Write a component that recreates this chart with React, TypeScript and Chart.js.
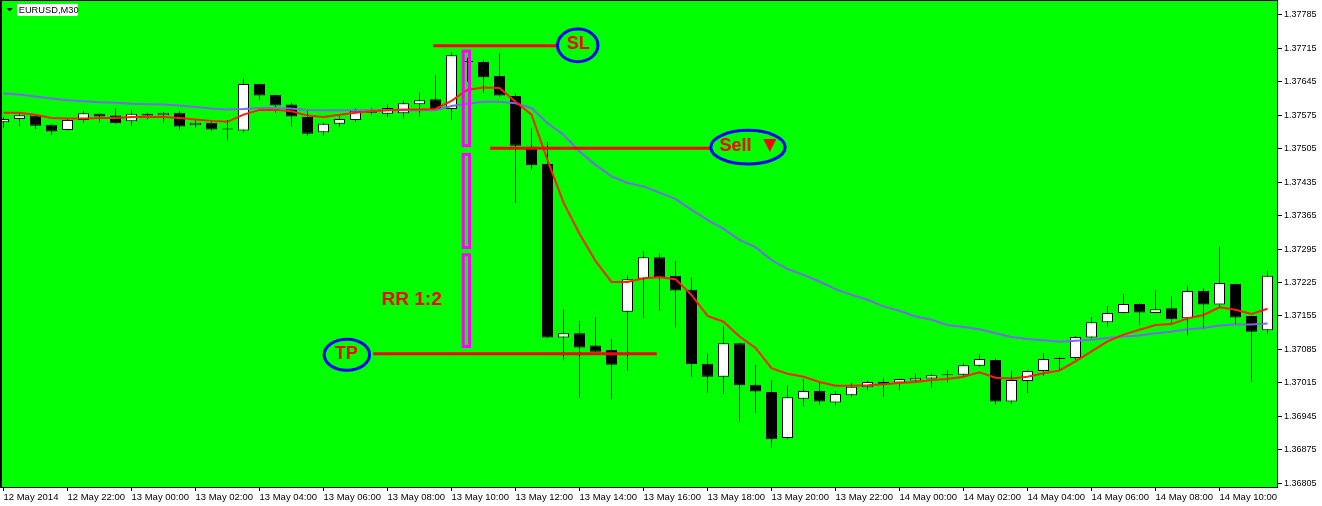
import { useEffect, useRef } from 'react';
import { Chart, registerables } from 'chart.js';

Chart.register(...registerables);

// ---- Data (EURUSD, M30) ----
const timeTickIndex = [0, 4, 8, 12, 16, 20, 24, 28, 32, 36, 40, 44, 48, 52, 56, 60, 64, 68, 72, 76];
const timeTickLabels = [
  '12 May 2014', '12 May 22:00', '13 May 00:00', '13 May 02:00', '13 May 04:00',
  '13 May 06:00', '13 May 08:00', '13 May 10:00', '13 May 12:00', '13 May 14:00',
  '13 May 16:00', '13 May 18:00', '13 May 20:00', '13 May 22:00', '14 May 00:00',
  '14 May 02:00', '14 May 04:00', '14 May 06:00', '14 May 08:00', '14 May 10:00',
];
const priceTicks = [
  1.36805, 1.36875, 1.36945, 1.37015, 1.37085, 1.37155, 1.37225, 1.37295,
  1.37365, 1.37435, 1.37505, 1.37575, 1.37645, 1.37715, 1.37785,
];

const opens = [
  1.37560, 1.37567, 1.37574, 1.37555, 1.37544, 1.37565, 1.37578, 1.37574, 1.37562, 1.37578,
  1.37575, 1.37580, 1.37554, 1.37559, 1.37545, 1.37543, 1.37640, 1.37617, 1.37597, 1.37571,
  1.37539, 1.37557, 1.37565, 1.37580, 1.37578, 1.37579, 1.37598, 1.37608, 1.37588, 1.37686,
  1.37686, 1.37657, 1.37615, 1.37509, 1.37473, 1.37110, 1.37119, 1.37093, 1.37084, 1.37164,
  1.37233, 1.37278, 1.37239, 1.37210, 1.37055, 1.37028, 1.37098, 1.37011, 1.36996, 1.36900,
  1.36982, 1.36998, 1.36974, 1.36989, 1.37006, 1.37017, 1.37016, 1.37020, 1.37024, 1.37031,
  1.37032, 1.37051, 1.37063, 1.36976, 1.37019, 1.37040, 1.37065, 1.37067, 1.37110, 1.37142,
  1.37161, 1.37180, 1.37161, 1.37171, 1.37150, 1.37207, 1.37179, 1.37222, 1.37155, 1.37125,
];
const highs = [
  1.37571, 1.37579, 1.37575, 1.37556, 1.37567, 1.37584, 1.37579, 1.37590, 1.37585, 1.37580,
  1.37581, 1.37584, 1.37565, 1.37565, 1.37565, 1.37652, 1.37641, 1.37618, 1.37601, 1.37586,
  1.37560, 1.37574, 1.37590, 1.37590, 1.37597, 1.37605, 1.37623, 1.37659, 1.37706, 1.37695,
  1.37691, 1.37705, 1.37620, 1.37548, 1.37519, 1.37169, 1.37145, 1.37153, 1.37107, 1.37240,
  1.37291, 1.37286, 1.37270, 1.37236, 1.37077, 1.37134, 1.37099, 1.37053, 1.37021, 1.37009,
  1.37023, 1.37017, 1.36998, 1.37015, 1.37020, 1.37026, 1.37024, 1.37034, 1.37034, 1.37042,
  1.37056, 1.37076, 1.37066, 1.37040, 1.37042, 1.37077, 1.37070, 1.37113, 1.37153, 1.37176,
  1.37201, 1.37181, 1.37208, 1.37197, 1.37218, 1.37213, 1.37300, 1.37223, 1.37156, 1.37249,
];
const lows = [
  1.37548, 1.37553, 1.37546, 1.37534, 1.37543, 1.37559, 1.37559, 1.37557, 1.37553, 1.37566,
  1.37560, 1.37544, 1.37549, 1.37542, 1.37522, 1.37539, 1.37606, 1.37580, 1.37551, 1.37532,
  1.37532, 1.37550, 1.37561, 1.37576, 1.37571, 1.37568, 1.37572, 1.37588, 1.37565, 1.37645,
  1.37622, 1.37614, 1.37391, 1.37462, 1.37109, 1.37062, 1.36984, 1.37079, 1.36981, 1.37040,
  1.37152, 1.37166, 1.37131, 1.37028, 1.36995, 1.36992, 1.36934, 1.36953, 1.36880, 1.36897,
  1.36966, 1.36970, 1.36968, 1.36986, 1.36999, 1.36986, 1.36999, 1.37018, 1.37005, 1.37016,
  1.37027, 1.37049, 1.36970, 1.36971, 1.36994, 1.37030, 1.37042, 1.37063, 1.37108, 1.37133,
  1.37160, 1.37136, 1.37160, 1.37141, 1.37114, 1.37127, 1.37175, 1.37136, 1.37018, 1.37118,
];
const closes = [
  1.37567, 1.37575, 1.37553, 1.37541, 1.37565, 1.37579, 1.37572, 1.37558, 1.37578, 1.37574,
  1.37580, 1.37551, 1.37559, 1.37545, 1.37545, 1.37640, 1.37616, 1.37595, 1.37572, 1.37536,
  1.37557, 1.37567, 1.37584, 1.37586, 1.37590, 1.37600, 1.37606, 1.37588, 1.37700, 1.37686,
  1.37654, 1.37616, 1.37511, 1.37470, 1.37110, 1.37119, 1.37089, 1.37080, 1.37053, 1.37232,
  1.37278, 1.37235, 1.37208, 1.37054, 1.37028, 1.37098, 1.37010, 1.36997, 1.36897, 1.36985,
  1.36998, 1.36976, 1.36992, 1.37007, 1.37017, 1.37013, 1.37023, 1.37026, 1.37031, 1.37031,
  1.37052, 1.37065, 1.36976, 1.37021, 1.37040, 1.37065, 1.37065, 1.37111, 1.37142, 1.37161,
  1.37180, 1.37162, 1.37169, 1.37148, 1.37207, 1.37179, 1.37224, 1.37152, 1.37122, 1.37239,
];
const maFast = [
  1.37580, 1.37580, 1.37576, 1.37569, 1.37568, 1.37568, 1.37569, 1.37569, 1.37571, 1.37571,
  1.37571, 1.37569, 1.37566, 1.37563, 1.37561, 1.37576, 1.37586, 1.37586, 1.37583, 1.37574,
  1.37571, 1.37576, 1.37580, 1.37583, 1.37585, 1.37587, 1.37587, 1.37588, 1.37605, 1.37628,
  1.37633, 1.37632, 1.37603, 1.37576, 1.37481, 1.37392, 1.37327, 1.37270, 1.37226, 1.37226,
  1.37234, 1.37236, 1.37232, 1.37199, 1.37155, 1.37143, 1.37112, 1.37088, 1.37046, 1.37034,
  1.37028, 1.37017, 1.37009, 1.37009, 1.37010, 1.37012, 1.37015, 1.37017, 1.37021, 1.37023,
  1.37028, 1.37037, 1.37026, 1.37024, 1.37028, 1.37035, 1.37041, 1.37060, 1.37081, 1.37102,
  1.37116, 1.37126, 1.37136, 1.37138, 1.37150, 1.37157, 1.37173, 1.37168, 1.37159, 1.37170,
];
const maSlow = [
  1.37620, 1.37618, 1.37614, 1.37610, 1.37606, 1.37604, 1.37602, 1.37601, 1.37599, 1.37598,
  1.37597, 1.37595, 1.37592, 1.37589, 1.37587, 1.37588, 1.37590, 1.37590, 1.37589, 1.37586,
  1.37585, 1.37585, 1.37585, 1.37585, 1.37585, 1.37585, 1.37585, 1.37585, 1.37594, 1.37599,
  1.37603, 1.37603, 1.37600, 1.37590, 1.37558, 1.37534, 1.37499, 1.37471, 1.37447, 1.37433,
  1.37426, 1.37413, 1.37400, 1.37377, 1.37356, 1.37337, 1.37314, 1.37299, 1.37272, 1.37253,
  1.37241, 1.37227, 1.37211, 1.37199, 1.37189, 1.37175, 1.37166, 1.37154, 1.37147, 1.37136,
  1.37132, 1.37127, 1.37119, 1.37111, 1.37107, 1.37104, 1.37101, 1.37103, 1.37105, 1.37109,
  1.37112, 1.37114, 1.37119, 1.37122, 1.37127, 1.37130, 1.37135, 1.37137, 1.37137, 1.37139,
];

// trade objects (time given as bar index, price as price)
const levelLines = [
  { name: 'SL', price: 1.37720, from: 26.86, to: 34.58 },
  { name: 'Sell', price: 1.37506, from: 30.41, to: 44.16 },
  { name: 'TP', price: 1.37076, from: 23.11, to: 40.83 },
];
const tags = [
  { text: 'SL', mark: '', at: 35.89, price: 1.37721 },
  { text: 'Sell', mark: '▼', at: 46.53, price: 1.37508 },
  { text: 'TP', mark: '', at: 21.46, price: 1.37074 },
];
const rrBoxSpan = [28.64, 29.22];
const rrBoxes = [
  [1.37712, 1.37508],
  [1.37496, 1.37295],
  [1.37286, 1.37088],
];
const rrLabel = { text: 'RR 1:2', at: 25.51, price: 1.37188 };
const symbolLabel = 'EURUSD,M30';

// ---- view range & styles ----
const X_MIN = -0.09375;
const X_MAX = 79.59375;
const Y_MIN = 1.367973;
const Y_MAX = 1.378137;

const tagStyle: Record<string, { rx: number; ry: number; dx: number; dy: number; mx: number; my: number }> = {
  SL: { rx: 20.2, ry: 16.3, dx: 0.6, dy: -0.8, mx: 0, my: 0 },
  Sell: { rx: 37.2, ry: 16.8, dx: -12.5, dy: -1, mx: 21.7, my: -1.8 },
  TP: { rx: 22.7, ry: 15.5, dx: -0.5, dy: -0.9, mx: 0, my: 0 },
};

const overlayPlugin = {
  id: 'mtOverlay',
  beforeDraw(chart: any) {
    const { ctx, chartArea: a, width, height } = chart;
    ctx.save();
    ctx.fillStyle = '#ffffff';
    ctx.fillRect(0, 0, width, height);
    ctx.fillStyle = '#00ff00';
    ctx.fillRect(a.left, a.top, a.right - a.left, a.bottom - a.top);
    ctx.fillStyle = '#000000';
    ctx.fillRect(0, 0, a.right + 1, 1);
    ctx.fillRect(0, 0, 2, a.bottom + 1);
    ctx.restore();
  },
  afterDatasetsDraw(chart: any) {
    const { ctx, chartArea: a } = chart;
    const xs = chart.scales.x;
    const ys = chart.scales.y;
    const px = (v: number) => xs.getPixelForValue(v);
    const py = (v: number) => ys.getPixelForValue(v);
    ctx.save();
    ctx.beginPath();
    ctx.rect(a.left, a.top, a.right - a.left, a.bottom - a.top);
    ctx.clip();

    // risk/reward boxes
    ctx.strokeStyle = '#ff00ff';
    ctx.lineWidth = 3;
    const bx1 = px(rrBoxSpan[0]);
    const bx2 = px(rrBoxSpan[1]);
    rrBoxes.forEach(([t, b]) => {
      const y1 = py(t);
      const y2 = py(b);
      ctx.strokeRect(bx1 + 1.5, y1 + 1.5, bx2 - bx1 - 3, y2 - y1 - 3);
    });

    // level lines
    ctx.strokeStyle = '#ff0000';
    ctx.lineWidth = 3;
    levelLines.forEach((l) => {
      const yy = py(l.price);
      ctx.beginPath();
      ctx.moveTo(px(l.from), yy);
      ctx.lineTo(px(l.to), yy);
      ctx.stroke();
    });

    // tags with ellipses
    tags.forEach((t) => {
      const s = tagStyle[t.text];
      const cx = px(t.at);
      const cy = py(t.price);
      ctx.beginPath();
      ctx.ellipse(cx, cy, s.rx, s.ry, 0, 0, Math.PI * 2);
      ctx.strokeStyle = '#0000ff';
      ctx.lineWidth = 3;
      ctx.stroke();
      ctx.fillStyle = '#ff0000';
      ctx.textAlign = 'center';
      ctx.textBaseline = 'middle';
      ctx.font = 'bold 18px "Liberation Sans"';
      ctx.fillText(t.text, cx + s.dx, cy + s.dy);
      if (t.mark) {
        ctx.font = '17px "DejaVu Sans"';
        ctx.fillText(t.mark, cx + s.mx, cy + s.my);
      }
    });

    // RR label
    ctx.fillStyle = '#ff0000';
    ctx.font = 'bold 19px "Liberation Sans"';
    ctx.textAlign = 'center';
    ctx.textBaseline = 'middle';
    ctx.fillText(rrLabel.text, px(rrLabel.at), py(rrLabel.price));

    ctx.restore();

    // symbol label top-left
    ctx.save();
    ctx.fillStyle = '#000000';
    ctx.beginPath();
    ctx.moveTo(6.5, 8);
    ctx.lineTo(12.8, 8);
    ctx.lineTo(9.65, 11.3);
    ctx.closePath();
    ctx.fill();
    ctx.fillStyle = '#ffffff';
    ctx.fillRect(17, 4, 61, 12);
    ctx.fillStyle = '#000000';
    ctx.font = '9.3px "Liberation Sans"';
    ctx.textAlign = 'left';
    ctx.textBaseline = 'middle';
    ctx.fillText(symbolLabel, 18.7, 10.3);
    ctx.restore();
  },
};

export default function App() {
  const ref = useRef<HTMLCanvasElement>(null);

  useEffect(() => {
    const canvas = ref.current;
    if (!canvas) return;
    const idx = opens.map((_, i) => i);
    const bodies = idx.map((i) => ({ x: i, y: [opens[i], closes[i]] }));
    const wicks = idx.map((i) => ({ x: i, y: [lows[i], highs[i]] }));
    const bodyColors = idx.map((i) => (closes[i] >= opens[i] ? '#ffffff' : '#000000'));
    const fastPts = idx.map((i) => ({ x: i, y: maFast[i] }));
    const slowPts = idx.map((i) => ({ x: i, y: maSlow[i] }));

    const chart = new Chart(canvas, {
      type: 'bar',
      data: {
        datasets: [
          {
            type: 'line',
            label: 'MA fast',
            data: fastPts,
            borderColor: '#ff2000',
            borderWidth: 2,
            pointRadius: 0,
            tension: 0,
            order: 0,
          } as any,
          {
            type: 'line',
            label: 'MA slow',
            data: slowPts,
            borderColor: '#7b68ee',
            borderWidth: 2,
            pointRadius: 0,
            tension: 0,
            order: 0,
          } as any,
          {
            type: 'bar',
            label: 'bodies',
            data: bodies,
            backgroundColor: bodyColors,
            borderColor: '#000000',
            borderWidth: 1,
            borderSkipped: false,
            barThickness: 11,
            minBarLength: 1,
            grouped: false,
            inflateAmount: 0,
            order: 1,
          } as any,
          {
            type: 'bar',
            label: 'wicks',
            data: wicks,
            backgroundColor: '#000000',
            borderWidth: 0,
            barThickness: 1,
            grouped: false,
            inflateAmount: 0,
            order: 2,
          } as any,
        ],
      },
      options: {
        animation: false,
        responsive: false,
        events: [],
        layout: { padding: { left: 2, top: 1, right: 0, bottom: 0 } },
        plugins: { legend: { display: false }, tooltip: { enabled: false } },
        scales: {
          x: {
            type: 'linear',
            position: 'bottom',
            min: X_MIN,
            max: X_MAX,
            offset: false,
            bounds: 'data',
            grid: { drawOnChartArea: false, drawTicks: true, tickLength: 4, color: '#000000', offset: false },
            border: { display: true, color: '#000000', width: 1 },
            ticks: {
              autoSkip: false,
              maxRotation: 0,
              minRotation: 0,
              align: 'start',
              padding: 1,
              color: '#000000',
              font: { family: 'Liberation Sans', size: 9.5 },
              callback: (v: any) => {
                const k = timeTickIndex.indexOf(Math.round(Number(v)));
                return k >= 0 ? timeTickLabels[k] : '';
              },
            },
            afterBuildTicks: (s: any) => {
              s.ticks = timeTickIndex.map((v) => ({ value: v }));
            },
            afterFit: (s: any) => {
              s.height = 19;
              s.paddingLeft = 0;
              s.paddingRight = 0;
            },
          } as any,
          y: {
            type: 'linear',
            position: 'right',
            min: Y_MIN,
            max: Y_MAX,
            bounds: 'data',
            grid: { drawOnChartArea: false, drawTicks: true, tickLength: 5, color: '#000000' },
            border: { display: true, color: '#000000', width: 1 },
            ticks: {
              autoSkip: false,
              padding: 2,
              color: '#000000',
              font: { family: 'Liberation Sans', size: 9 },
              callback: (v: any) => Number(v).toFixed(5),
            },
            afterBuildTicks: (s: any) => {
              s.ticks = priceTicks.map((v) => ({ value: v }));
            },
            afterFit: (s: any) => {
              s.width = 45;
              s.paddingTop = 0;
              s.paddingBottom = 0;
            },
          } as any,
        },
      },
      plugins: [overlayPlugin],
    });
    return () => chart.destroy();
  }, []);

  return (
    <div style={{ position: 'fixed', left: 0, top: 0, width: 1322, height: 506, background: '#ffffff' }}>
      <canvas ref={ref} width={1322} height={506} style={{ display: 'block', width: 1322, height: 506 }} />
    </div>
  );
}
